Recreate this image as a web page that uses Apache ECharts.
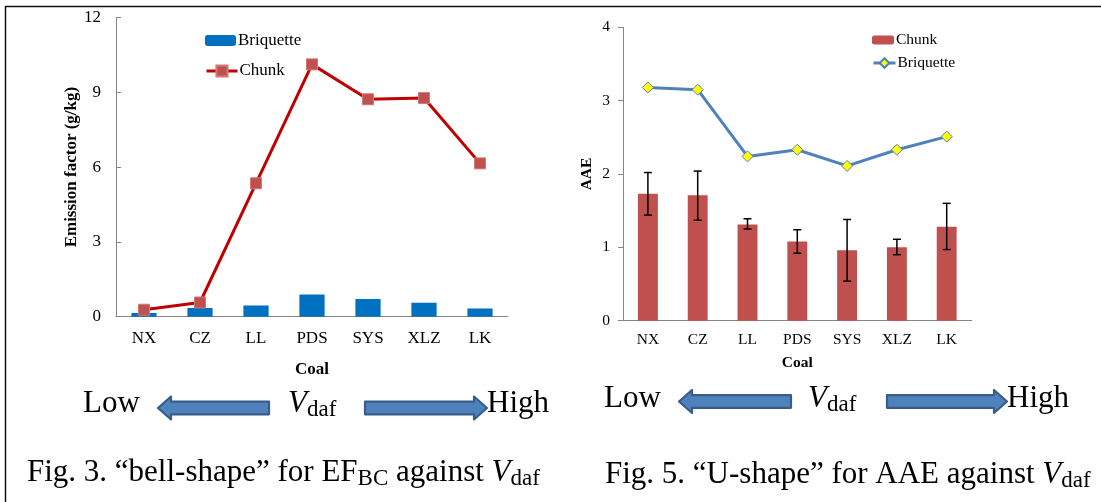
<!DOCTYPE html>
<html>
<head>
<meta charset="utf-8">
<script src="https://cdn.jsdelivr.net/npm/echarts@6/dist/echarts.min.js"></script>
<style>
html,body{margin:0;padding:0;background:#fff;}
#c{width:1101px;height:502px;}
</style>
</head>
<body>
<div id="c"></div>
<script>
// ---- data ----
var coals = ['NX', 'CZ', 'LL', 'PDS', 'SYS', 'XLZ', 'LK'];
// Fig. 3 : emission factor (g/kg)
var efBriquette = [0.15, 0.35, 0.45, 0.89, 0.71, 0.56, 0.33];
var efChunk = [0.28, 0.57, 5.35, 10.12, 8.72, 8.77, 6.15];
// Fig. 5 : AAE
var aaeChunk = [1.73, 1.71, 1.31, 1.08, 0.96, 1.00, 1.28];
var aaeChunkLow = [1.44, 1.37, 1.25, 0.92, 0.54, 0.90, 0.97];
var aaeChunkHigh = [2.02, 2.04, 1.39, 1.24, 1.38, 1.11, 1.60];
var aaeBriquette = [3.18, 3.15, 2.24, 2.33, 2.11, 2.33, 2.51];
var efTicks = [0, 3, 6, 9, 12];
var aaeTicks = [0, 1, 2, 3, 4];

var FONT = '"Liberation Serif", "Times New Roman", serif';
var AXIS_GRAY = '#868686';

var errData = coals.map(function (c, i) { return [i, aaeChunkLow[i], aaeChunkHigh[i]]; });

function arrowPoints(x0, x1, cy, dir) {
  var hl = 13, hh = 11.5, sh = 6.3;
  if (dir < 0) {
    return [[x0, cy], [x0 + hl, cy - hh], [x0 + hl, cy - sh], [x1, cy - sh], [x1, cy + sh], [x0 + hl, cy + sh], [x0 + hl, cy + hh]];
  }
  return [[x1, cy], [x1 - hl, cy - hh], [x1 - hl, cy - sh], [x0, cy - sh], [x0, cy + sh], [x1 - hl, cy + sh], [x1 - hl, cy + hh]];
}
function arrow(x0, x1, cy, dir) {
  return {
    type: 'polygon', shape: { points: arrowPoints(x0, x1, cy, dir) },
    style: { fill: '#4F81BD', stroke: '#385D8A', lineWidth: 2.2, lineJoin: 'round' }, z: 10
  };
}
var rich = {
  n: { fontFamily: FONT, fontSize: 31, lineHeight: 34, color: '#000' },
  v: { fontFamily: FONT, fontSize: 31, fontStyle: 'italic', lineHeight: 34, color: '#000' },
  s: { fontFamily: FONT, fontSize: 23, lineHeight: 12, verticalAlign: 'bottom', color: '#000' }
};
function txt(x, y, t) {
  return {
    type: 'text', x: x, y: y, z: 10,
    style: { text: t, rich: rich, font: '31px ' + FONT, fill: '#000', textAlign: 'left', textVerticalAlign: 'middle' }
  };
}
function leg(names, left, top, w, h, fs) {
  return {
    orient: 'vertical', left: left, top: top, itemWidth: w, itemHeight: h, padding: 0, itemGap: 0,
    data: names,
    formatter: function (n) { return n.split('|')[1]; },
    lineStyle: { width: 3 },
    textStyle: { fontFamily: FONT, fontSize: fs, color: '#000', padding: [0, 0, 0, -3] }
  };
}

var chart = echarts.init(document.getElementById('c'), null, { renderer: 'canvas' });
var option = {
  animation: false,
  backgroundColor: '#fff',
  textStyle: { fontFamily: FONT, color: '#000' },
  grid: [
    { left: 116, top: 17.5, width: 392, height: 299.2 },
    { left: 623, top: 27.3, width: 348.6, height: 293.4 }
  ],
  legend: [
    leg(['A|Briquette'], 205, 32, 31, 11, 17),
    leg(['A|Chunk'], 205, 62.5, 31, 14, 17),
    leg(['B|Chunk'], 872, 32, 22, 9, 15.5),
    leg(['B|Briquette'], 872, 55, 22, 12, 15.5)
  ],
  xAxis: [
    {
      type: 'category', gridIndex: 0, data: coals,
      name: 'Coal', nameLocation: 'middle', nameGap: 44,
      nameTextStyle: { fontFamily: FONT, fontSize: 17, fontWeight: 'bold', color: '#000' },
      axisLine: { lineStyle: { color: AXIS_GRAY, width: 1 } },
      axisTick: { inside: true, length: 5, lineStyle: { color: AXIS_GRAY } },
      axisLabel: { fontFamily: FONT, fontSize: 17, color: '#000', margin: 13 }
    },
    {
      type: 'category', gridIndex: 1, data: coals,
      name: 'Coal', nameLocation: 'middle', nameGap: 34,
      nameTextStyle: { fontFamily: FONT, fontSize: 15.5, fontWeight: 'bold', color: '#000' },
      axisLine: { lineStyle: { color: AXIS_GRAY, width: 1 } },
      axisTick: { inside: false, length: 5, lineStyle: { color: AXIS_GRAY } },
      axisLabel: { fontFamily: FONT, fontSize: 15.5, color: '#000', margin: 11 }
    }
  ],
  yAxis: [
    {
      type: 'value', gridIndex: 0, min: efTicks[0], max: efTicks[efTicks.length - 1], interval: 3,
      name: 'Emission factor (g/kg)', nameLocation: 'middle', nameGap: 36, nameRotate: 90,
      nameTextStyle: { fontFamily: FONT, fontSize: 17, fontWeight: 'bold', color: '#000' },
      axisLine: { show: true, lineStyle: { color: AXIS_GRAY, width: 1 } },
      axisTick: { show: true, inside: true, length: 5, lineStyle: { color: AXIS_GRAY } },
      axisLabel: { fontFamily: FONT, fontSize: 17, color: '#000', margin: 15 },
      splitLine: { show: false }
    },
    {
      type: 'value', gridIndex: 1, min: aaeTicks[0], max: aaeTicks[aaeTicks.length - 1], interval: 1,
      name: 'AAE', nameLocation: 'middle', nameGap: 28, nameRotate: 90,
      nameTextStyle: { fontFamily: FONT, fontSize: 15.5, fontWeight: 'bold', color: '#000' },
      axisLine: { show: true, lineStyle: { color: AXIS_GRAY, width: 1 } },
      axisTick: { show: true, inside: false, length: 5, lineStyle: { color: AXIS_GRAY } },
      axisLabel: { fontFamily: FONT, fontSize: 15.5, color: '#000', margin: 13 },
      splitLine: { show: false }
    }
  ],
  series: [
    {
      name: 'A|Briquette', type: 'bar', xAxisIndex: 0, yAxisIndex: 0, data: efBriquette,
      barWidth: '45%', itemStyle: { color: '#0070C0' }
    },
    {
      name: 'A|Chunk', type: 'line', xAxisIndex: 0, yAxisIndex: 0, data: efChunk,
      symbol: 'rect', symbolSize: 11,
      lineStyle: { color: '#C00000', width: 3 },
      itemStyle: { color: '#C0504D', borderColor: '#D07A77', borderWidth: 1 }
    },
    {
      name: 'B|Chunk', type: 'bar', xAxisIndex: 1, yAxisIndex: 1, data: aaeChunk,
      barWidth: '40%', itemStyle: { color: '#C0504D' }
    },
    {
      name: 'B|err', type: 'custom', xAxisIndex: 1, yAxisIndex: 1, data: errData, z: 5,
      renderItem: function (params, api) {
        var x = api.value(0);
        var lo = api.coord([x, api.value(1)]);
        var hi = api.coord([x, api.value(2)]);
        var cw = 4;
        var st = { stroke: '#000', lineWidth: 1.5 };
        return {
          type: 'group', children: [
            { type: 'line', shape: { x1: lo[0], y1: lo[1], x2: hi[0], y2: hi[1] }, style: st },
            { type: 'line', shape: { x1: lo[0] - cw, y1: lo[1], x2: lo[0] + cw, y2: lo[1] }, style: st },
            { type: 'line', shape: { x1: hi[0] - cw, y1: hi[1], x2: hi[0] + cw, y2: hi[1] }, style: st }
          ]
        };
      }
    },
    {
      name: 'B|Briquette', type: 'line', xAxisIndex: 1, yAxisIndex: 1, data: aaeBriquette,
      symbol: 'diamond', symbolSize: 11, z: 6,
      lineStyle: { color: '#4F81BD', width: 3 },
      itemStyle: { color: '#FFFF00', borderColor: '#4F81BD', borderWidth: 1 }
    }
  ],
  graphic: [
    { type: 'line', shape: { x1: 5, y1: 6.5, x2: 1101, y2: 6.5 }, style: { stroke: '#111', lineWidth: 1.5 } },
    { type: 'line', shape: { x1: 5.5, y1: 6, x2: 5.5, y2: 502 }, style: { stroke: '#111', lineWidth: 1.5 } },
    txt(83, 404, '{n|Low}'),
    arrow(158, 269, 408, -1),
    txt(288, 404, '{v|V}{s|daf}'),
    arrow(365, 487, 408, 1),
    txt(487, 404, '{n|High}'),
    txt(604, 399, '{n|Low}'),
    arrow(679, 791, 401.5, -1),
    txt(808, 399, '{v|V}{s|daf}'),
    arrow(887, 1007, 401.5, 1),
    txt(1007, 399, '{n|High}'),
    txt(27, 473, '{n|Fig. 3. “bell-shape” for EF}{s|BC}{n| against }{v|V}{s|daf}'),
    txt(605, 475, '{n|Fig. 5. “U-shape” for AAE against }{v|V}{s|daf}')
  ]
};
chart.setOption(option);
</script>
</body>
</html>
